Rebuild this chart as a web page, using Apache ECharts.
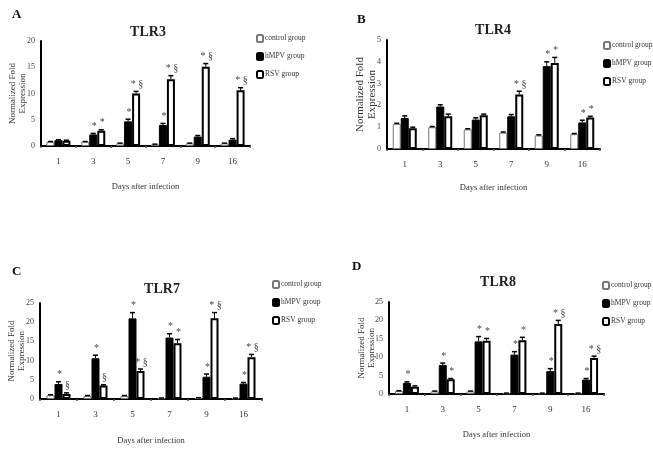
<!DOCTYPE html>
<html><head><meta charset="utf-8">
<script src="https://cdn.jsdelivr.net/npm/echarts@6/dist/echarts.min.js"></script>
<style>html,body{margin:0;padding:0;background:#fff}#c{width:653px;height:452px}</style>
</head><body><div id="c"></div>
<script>
var categories = ['1','3','5','7','9','16'];
var seriesNames = ['control group','hMPV group','RSV group'];

// Panel A: TLR3
var tlr3Control = [0.8, 0.8, 0.5, 0.3, 0.5, 0.5];
var tlr3Hmpv    = [1.1, 2.2, 4.7, 4.0, 1.8, 1.2];
var tlr3Rsv     = [1.0, 2.9, 10.0, 12.7, 15.1, 10.6];
var tlr3ErrControl = [0.05, 0.05, 0.05, 0.05, 0.05, 0.05];
var tlr3ErrHmpv    = [0.1, 0.2, 0.4, 0.3, 0.2, 0.2];
var tlr3ErrRsv     = [0.1, 0.2, 0.4, 0.7, 0.6, 0.5];
var tlr3AnnHmpv = ['', '*', '*', '*', '', ''];
var tlr3AnnRsv  = ['', '*', '* §', '* §', '* §', '* §'];

// Panel B: TLR4
var tlr4Control = [1.15, 1.0, 0.9, 0.75, 0.62, 0.68];
var tlr4Hmpv    = [1.42, 1.95, 1.35, 1.5, 3.8, 1.22];
var tlr4Rsv     = [0.95, 1.5, 1.55, 2.5, 3.95, 1.45];
var tlr4ErrControl = [0.03, 0.03, 0.03, 0.03, 0.03, 0.03];
var tlr4ErrHmpv    = [0.1, 0.08, 0.08, 0.08, 0.2, 0.1];
var tlr4ErrRsv     = [0.05, 0.1, 0.05, 0.15, 0.25, 0.05];
var tlr4AnnHmpv = ['', '', '', '', '*', '*'];
var tlr4AnnRsv  = ['', '', '', '* §', '*', '*'];

// Panel C: TLR7
var tlr7Control = [1.0, 0.8, 0.8, 0.2, 0.3, 0.2];
var tlr7Hmpv    = [3.9, 10.6, 21.0, 16.0, 5.8, 4.0];
var tlr7Rsv     = [1.3, 3.5, 7.3, 14.5, 21.0, 10.9];
var tlr7ErrControl = [0.1, 0.1, 0.1, 0.05, 0.05, 0.05];
var tlr7ErrHmpv    = [0.6, 0.8, 1.5, 1.0, 0.7, 0.3];
var tlr7ErrRsv     = [0.3, 0.2, 0.5, 1.0, 1.5, 0.7];
var tlr7AnnHmpv = ['*', '*', '*', '*', '*', '*'];
var tlr7AnnRsv  = ['§', '§', '* §', '*', '* §', '* §'];

// Panel D: TLR8
var tlr8Control = [0.8, 0.7, 0.7, 0.2, 0.2, 0.2];
var tlr8Hmpv    = [3.0, 7.9, 14.3, 10.7, 6.2, 3.9];
var tlr8Rsv     = [2.0, 4.0, 14.5, 14.6, 19.0, 9.8];
var tlr8ErrControl = [0.1, 0.1, 0.1, 0.05, 0.05, 0.05];
var tlr8ErrHmpv    = [0.3, 0.5, 1.3, 0.8, 0.7, 0.3];
var tlr8ErrRsv     = [0.2, 0.2, 0.6, 0.8, 1.0, 0.5];
var tlr8AnnHmpv = ['*', '*', '*', '*', '*', '*'];
var tlr8AnnRsv  = ['', '*', '*', '*', '* §', '* §'];

var yMaxA = 20, yIntA = 5;
var yMaxB = 5, yIntB = 1;
var yMaxC = 25, yIntC = 5;
var yMaxD = 25, yIntD = 5;

var FONT = '"Liberation Serif", "DejaVu Serif", serif';
var BW = 8;

var panels = [
  {title:'TLR3', letter:'A', grid:{left:41, top:41, width:209, height:105}, max:yMaxA, interval:yIntA,
   vals:[tlr3Control,tlr3Hmpv,tlr3Rsv], errs:[tlr3ErrControl,tlr3ErrHmpv,tlr3ErrRsv], anns:[null,tlr3AnnHmpv,tlr3AnnRsv],
   titlePos:[148,32], letterPos:[12,15], legend:{left:251, top:29}, xNameGap:36, yNameGap:13, yNameSize:9},
  {title:'TLR4', letter:'B', grid:{left:387, top:40, width:213, height:109}, max:yMaxB, interval:yIntB,
   vals:[tlr4Control,tlr4Hmpv,tlr4Rsv], errs:[tlr4ErrControl,tlr4ErrHmpv,tlr4ErrRsv], anns:[null,tlr4AnnHmpv,tlr4AnnRsv],
   titlePos:[493,30], letterPos:[357,20], legend:{left:598, top:36}, xNameGap:34, yNameGap:9, yNameSize:11},
  {title:'TLR7', letter:'C', grid:{left:40, top:303, width:222, height:96}, max:yMaxC, interval:yIntC,
   vals:[tlr7Control,tlr7Hmpv,tlr7Rsv], errs:[tlr7ErrControl,tlr7ErrHmpv,tlr7ErrRsv], anns:[null,tlr7AnnHmpv,tlr7AnnRsv],
   titlePos:[162,289], letterPos:[12,272], legend:{left:267, top:275}, xNameGap:37, yNameGap:13, yNameSize:9},
  {title:'TLR8', letter:'D', grid:{left:389, top:302, width:215, height:92}, max:yMaxD, interval:yIntD,
   vals:[tlr8Control,tlr8Hmpv,tlr8Rsv], errs:[tlr8ErrControl,tlr8ErrHmpv,tlr8ErrRsv], anns:[null,tlr8AnnHmpv,tlr8AnnRsv],
   titlePos:[498,282], letterPos:[352,267], legend:{left:597, top:276}, xNameGap:36, yNameGap:12, yNameSize:9}
];

var barStyles = [
  {color:'#fff', borderColor:'#777', borderWidth:1},
  {color:'#000', borderColor:'#000', borderWidth:1},
  {color:'#fff', borderColor:'#000', borderWidth:2}
];

var grids=[], xAxes=[], yAxes=[], series=[], legends=[], graphics=[];
panels.forEach(function(p, gi){
  grids.push(p.grid);
  xAxes.push({type:'category', gridIndex:gi, data:categories,
    name:'Days after infection', nameLocation:'middle', nameGap:p.xNameGap, nameMoveOverlap:false,
    nameTextStyle:{fontFamily:FONT, fontSize:8.5, color:'#333'},
    axisLine:{lineStyle:{color:'#000', width:2}},
    axisTick:{show:true, length:2, lineStyle:{color:'#555', width:1.5}},
    axisLabel:{fontFamily:FONT, fontSize:9, color:'#333', margin:11}});
  yAxes.push({type:'value', gridIndex:gi, min:0, max:p.max, interval:p.interval,
    name:'Normalized Fold\nExpression', nameLocation:'middle', nameGap:p.yNameGap, nameRotate:90, nameMoveOverlap:false,
    nameTextStyle:{fontFamily:FONT, fontSize:p.yNameSize, color:'#333', lineHeight:p.yNameSize+1},
    splitLine:{show:false},
    axisLine:{show:true, lineStyle:{color:'#000', width:2}},
    axisTick:{show:false},
    axisLabel:{fontFamily:FONT, fontSize:8, color:'#444', margin:6}});
  for (var s=0; s<3; s++){
    series.push({type:'bar', name:seriesNames[s], xAxisIndex:gi, yAxisIndex:gi,
      data:p.vals[s], barWidth:BW, barGap:'0%', itemStyle:barStyles[s], animation:false, z:2});
  }
  for (var s2=0; s2<3; s2++){
    (function(si){
      var vals=p.vals[si], errs=p.errs[si], anns=p.anns[si];
      series.push({type:'custom', xAxisIndex:gi, yAxisIndex:gi, animation:false, z:3,
        data: vals.map(function(v,i){return [i, v, errs[i]];}),
        renderItem:function(params, api){
          var i=api.value(0), v=api.value(1), e=api.value(2);
          var base=api.coord([i, v]), top=api.coord([i, v+e]);
          var cx = base[0] + (si-1)*BW;
          var ch=[
            {type:'line', shape:{x1:cx,y1:base[1],x2:cx,y2:top[1]}, style:{stroke:'#000', lineWidth:1}},
            {type:'line', shape:{x1:cx-2.5,y1:top[1],x2:cx+2.5,y2:top[1]}, style:{stroke:'#000', lineWidth:1.5}}
          ];
          if (anns && anns[params.dataIndex]) {
            ch.push({type:'text', x:cx+1, y:top[1]-2, style:{text:anns[params.dataIndex], textAlign:'center', textVerticalAlign:'bottom', fill:'#444', font:'10px '+FONT}});
          }
          return {type:'group', children:ch};
        }});
    })(s2);
  }
  legends.push({left:p.legend.left, top:p.legend.top, orient:'vertical', itemGap:9, itemWidth:6, itemHeight:7,
    selectedMode:false, data:seriesNames, textStyle:{fontFamily:FONT, fontSize:7.5, color:'#333', padding:[0,0,0,-3]}});
  graphics.push({type:'text', x:p.titlePos[0], y:p.titlePos[1], style:{text:p.title, textAlign:'center', textVerticalAlign:'middle', font:'bold 14px '+FONT, fill:'#222'}});
  graphics.push({type:'text', x:p.letterPos[0], y:p.letterPos[1], style:{text:p.letter, textAlign:'left', textVerticalAlign:'middle', font:'bold 13px '+FONT, fill:'#111'}});
});

var chart = echarts.init(document.getElementById('c'), null, {renderer:'canvas'});
chart.setOption({backgroundColor:'#fff', animation:false, grid:grids, xAxis:xAxes, yAxis:yAxes,
  series:series, legend:legends, graphic:graphics});
</script></body></html>
